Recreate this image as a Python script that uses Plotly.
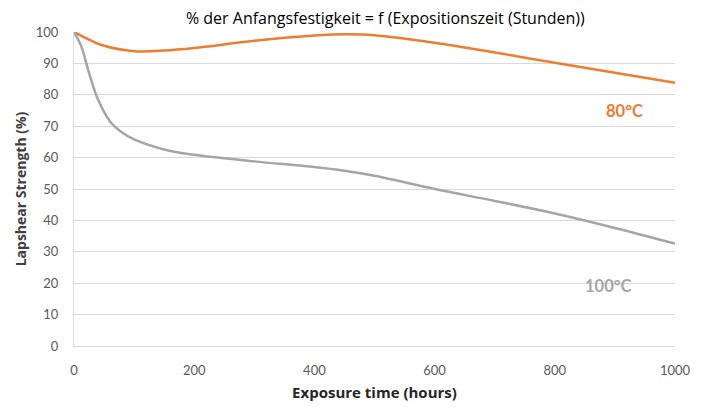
import plotly.graph_objects as go

hours_80 = [0, 25, 50, 100, 150, 200, 300, 400, 450, 500, 600, 700, 800, 900, 1000]
strength_80 = [100, 97.6, 95.6, 93.9, 94.1, 94.9, 97.2, 98.9, 99.3, 99.0, 96.6, 93.5, 90.2, 87.0, 83.8]
hours_100 = [0, 12, 25, 40, 60, 80, 100, 150, 200, 300, 400, 450, 500, 600, 700, 800, 900, 1000]
strength_100 = [100, 95.5, 87.0, 78.5, 71.5, 68.0, 65.8, 62.6, 60.9, 58.8, 57.0, 55.8, 54.2, 50.0, 46.2, 42.2, 37.6, 32.6]

series_names = ["80°C", "100°C"]
label_pos = [(916, 75), (890, 19)]
colors = ["#ED7D31", "#A5A5A5"]

fig = go.Figure()
for name, xs, ys, col in zip(series_names, [hours_80, hours_100], [strength_80, strength_100], colors):
    fig.add_trace(go.Scatter(x=xs, y=ys, mode="lines", name=name,
                             line=dict(color=col, width=2.5, shape="spline", smoothing=1.0)))

for name, (lx, ly), col in zip(series_names, label_pos, colors):
    fig.add_annotation(x=lx, y=ly, text=f"<b>{name}</b>", showarrow=False,
                       font=dict(family="Lato, Open Sans, sans-serif", size=16.5, color=col))

fig.update_layout(
    width=704, height=407,
    margin=dict(l=66, r=37, t=24, b=69),
    paper_bgcolor="white", plot_bgcolor="white",
    showlegend=False,
    font=dict(family="Lato, Open Sans, sans-serif", color="#595959"),
    title=dict(text="% der Anfangsfestigkeit = f (Expositionszeit (Stunden))",
               x=0.536, xanchor="center", y=0.974, yanchor="middle",
               font=dict(family="Open Sans, sans-serif", size=16, color="#000000")),
)
fig.update_xaxes(range=[0, 1000], tickvals=[0, 200, 400, 600, 800, 1000], automargin=False,
                 showgrid=False, zeroline=False, showline=True, linecolor="#D9D9D9", linewidth=1,
                 tickfont=dict(size=13, color="#595959"), ticklabelstandoff=12,
                 title=dict(text="<b>Exposure time (hours)</b>", standoff=10,
                            font=dict(family="Open Sans, sans-serif", size=15, color="#262626")))
fig.update_yaxes(range=[0, 100], tickvals=list(range(0, 101, 10)), automargin=False,
                 showgrid=True, gridcolor="#D9D9D9", gridwidth=1, zeroline=False,
                 showline=True, linecolor="#D9D9D9", linewidth=1,
                 tickfont=dict(size=13, color="#595959"), ticklabelstandoff=12,
                 title=dict(text="<b>Lapshear Strength (%)</b>", standoff=5,
                            font=dict(family="Open Sans, sans-serif", size=14, color="#404040")))

fig.write_html("out.html")
